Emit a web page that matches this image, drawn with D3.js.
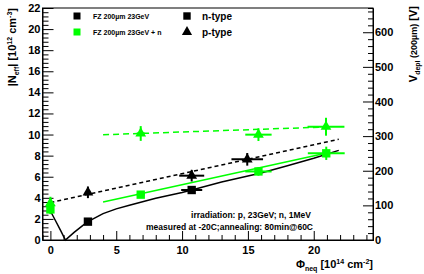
<!DOCTYPE html>
<html>
<head>
<meta charset="utf-8">
<script src="https://cdn.jsdelivr.net/npm/d3@7"></script>
<style>
  body { margin: 0; background: #fff; }
  svg { display: block; font-family: "Liberation Sans", Arial, sans-serif; font-weight: bold; }
</style>
</head>
<body>
<script>
// measured points: [fluence, |Neff|, errX, errY]
const blackSquares = [[2.85, 1.74, 0, 0], [10.73, 4.74, 0.8, 0.35]];
const blackTriangles = [[2.85, 4.52, 0, 0.55], [10.73, 6.1, 0.95, 0.55], [14.95, 7.65, 1.2, 0.6]];
const greenSquares = [[0, 2.9, 0, 0.45], [6.86, 4.3, 0.3, 0.3], [15.8, 6.5, 1.0, 0.4], [20.95, 8.22, 1.4, 0.63]];
const greenTriangles = [[0, 3.5, 0, 0.6], [6.86, 10.1, 0.3, 0.7], [15.8, 9.99, 1.0, 0.6], [20.93, 10.74, 1.4, 0.85]];

// fit curves
const fitBlackN = [[0, 2.75], [0.4, 1.8], [0.8, 0.85], [1.14, 0], [1.8, 0.72], [2.47, 1.38], [2.85, 1.74], [4, 2.5], [5, 2.95], [6, 3.3], [8, 3.95], [10, 4.5], [10.73, 4.74], [13, 5.5], [16, 6.35], [18, 7.05], [20, 7.75], [21.9, 8.5]];
const fitBlackP = [[0, 3.55], [21.9, 9.55]];
const fitGreenN = [[4, 3.6], [21, 8.25]];
const fitGreenP = [[4, 9.98], [21, 10.72]];

const xTicks = [0, 5, 10, 15, 20];
const yTicks = [0, 2, 4, 6, 8, 10, 12, 14, 16, 18, 20, 22];
const vTicks = [0, 100, 200, 300, 400, 500, 600];

const W = 424, H = 274;
const margin = {left: 42.5, right: 51, top: 8, bottom: 34};

const svg = d3.select("body").append("svg")
  .attr("width", W).attr("height", H);

const x = d3.scaleLinear().domain([-0.6, 24.5]).range([margin.left, W - margin.right]);
const y = d3.scaleLinear().domain([0, 22]).range([H - margin.bottom, margin.top]);
const v = d3.scaleLinear().domain([0, 670]).range([H - margin.bottom, margin.top]);

const green = "#00ff00";

// frame
svg.append("rect")
  .attr("x", x.range()[0]).attr("y", y.range()[1])
  .attr("width", x.range()[1] - x.range()[0])
  .attr("height", y.range()[0] - y.range()[1])
  .attr("fill", "none").attr("stroke", "#000").attr("stroke-width", 1);

// axes (ticks pointing inward like ROOT)
const xAxis = d3.axisBottom(x).tickValues(d3.range(0, 25, 1))
  .tickSize(-5).tickFormat(d => xTicks.includes(d) ? d : "").tickPadding(6);
const xg = svg.append("g").attr("transform", `translate(0,${y(0)})`).call(xAxis);
xg.selectAll(".tick line").filter(d => xTicks.includes(d)).attr("y2", -9);

const yAxis = d3.axisLeft(y).tickValues(d3.range(0, 22.01, 0.4).map(d => +d.toFixed(1)))
  .tickSize(-6).tickFormat(d => yTicks.includes(d) ? d : "").tickPadding(4);
const yg = svg.append("g").attr("transform", `translate(${x.range()[0]},0)`).call(yAxis);
yg.selectAll(".tick line").filter(d => yTicks.includes(d)).attr("x2", 11);

const vAxis = d3.axisRight(v).tickValues(d3.range(0, 661, 20))
  .tickSize(-5).tickFormat(d => vTicks.includes(d) ? d : "").tickPadding(2);
const vg = svg.append("g").attr("transform", `translate(${x.range()[1]},0)`).call(vAxis);
vg.selectAll(".tick line").filter(d => vTicks.includes(d)).attr("x2", -10);

[xg, yg, vg].forEach(g => {
  g.select(".domain").attr("stroke", "#000");
  g.selectAll("text").attr("font-size", 11).attr("font-weight", "bold")
    .attr("font-family", "Liberation Sans, Arial, sans-serif").attr("fill", "#000");
});
yg.selectAll("text").attr("dx", 2);
vg.selectAll("text").attr("dx", 0);

// fit lines
const line = d3.line().x(d => x(d[0])).y(d => y(d[1]));
svg.append("path").datum(fitBlackN).attr("d", line)
  .attr("fill", "none").attr("stroke", "#000").attr("stroke-width", 1.5);
svg.append("path").datum(fitBlackP).attr("d", line)
  .attr("fill", "none").attr("stroke", "#000").attr("stroke-width", 1.5).attr("stroke-dasharray", "4,3");
svg.append("path").datum(fitGreenN).attr("d", line)
  .attr("fill", "none").attr("stroke", green).attr("stroke-width", 1.5);
svg.append("path").datum(fitGreenP).attr("d", line)
  .attr("fill", "none").attr("stroke", green).attr("stroke-width", 1.5).attr("stroke-dasharray", "6,4");

// markers with error bars
function drawSet(data, color, shape) {
  const g = svg.append("g");
  data.forEach(d => {
    const cx = x(d[0]), cy = y(d[1]);
    if (d[2] > 0) g.append("line").attr("x1", x(d[0] - d[2])).attr("x2", x(d[0] + d[2]))
      .attr("y1", cy).attr("y2", cy).attr("stroke", color).attr("stroke-width", 2);
    if (d[3] > 0) g.append("line").attr("x1", cx).attr("x2", cx)
      .attr("y1", y(d[1] - d[3])).attr("y2", y(d[1] + d[3])).attr("stroke", color).attr("stroke-width", 2);
    const sym = d3.symbol().type(shape === "square" ? d3.symbolSquare : d3.symbolTriangle)
      .size(shape === "square" ? 70 : 50);
    g.append("path").attr("d", sym()).attr("transform", `translate(${cx},${cy})`).attr("fill", color);
  });
}
drawSet(blackSquares, "#000", "square");
drawSet(blackTriangles, "#000", "triangle");
drawSet(greenSquares, green, "square");
drawSet(greenTriangles, green, "triangle");

// legend
const legend = [
  {label: "FZ 200\u00b5m 23GeV", color: "#000", shape: "square", size: 7},
  {label: "FZ 200\u00b5m 23GeV + n", color: green, shape: "square", size: 7},
];
legend.forEach((l, i) => {
  const ly = 16 + i * 16;
  svg.append("rect").attr("x", 73.5).attr("y", ly - 3.5).attr("width", 7).attr("height", 7).attr("fill", l.color);
  svg.append("text").attr("x", 93).attr("y", ly + 2.5).attr("font-size", l.size).text(l.label);
});
const typeLegend = [{label: "n-type", shape: d3.symbolSquare, size: 55}, {label: "p-type", shape: d3.symbolTriangle, size: 45}];
typeLegend.forEach((l, i) => {
  const ly = 16 + i * 16;
  svg.append("path").attr("d", d3.symbol().type(l.shape).size(l.size)())
    .attr("transform", `translate(187,${ly})`).attr("fill", "#000");
  svg.append("text").attr("x", 202).attr("y", ly + 3.5).attr("font-size", 10).text(l.label);
});

// annotation
svg.append("text").attr("x", 311).attr("y", 218).attr("text-anchor", "end").attr("font-size", 8.5)
  .text("irradiation: p, 23GeV; n, 1MeV");
svg.append("text").attr("x", 313).attr("y", 229.5).attr("text-anchor", "end").attr("font-size", 8.5)
  .text("measured at -20C;annealing: 80min@60C");

// axis titles
const yt = svg.append("text").attr("transform", "translate(16,8) rotate(-90)")
  .attr("text-anchor", "end").attr("font-size", 11);
yt.append("tspan").text("|N");
yt.append("tspan").attr("font-size", 7).attr("dy", 3).text("eff");
yt.append("tspan").attr("dy", -3).text("| [10");
yt.append("tspan").attr("font-size", 7).attr("dy", -4).text("12");
yt.append("tspan").attr("dy", 4).text(" cm");
yt.append("tspan").attr("font-size", 7).attr("dy", -4).text("-3");
yt.append("tspan").attr("dy", 4).text("]");

const vt = svg.append("text").attr("transform", "translate(417,6) rotate(-90)")
  .attr("text-anchor", "end").attr("font-size", 11);
vt.append("tspan").text("V");
vt.append("tspan").attr("font-size", 7).attr("dy", 3).text("depl");
vt.append("tspan").attr("dy", -3).attr("font-size", 9).text(" (200\u00b5m)");
vt.append("tspan").text(" [V]");

const xt = svg.append("text").attr("x", 373).attr("y", 268)
  .attr("text-anchor", "end").attr("font-size", 11);
xt.append("tspan").text("\u03a6");
xt.append("tspan").attr("font-size", 7).attr("dy", 3).text("neq");
xt.append("tspan").attr("dy", -3).text(" [10");
xt.append("tspan").attr("font-size", 7).attr("dy", -4).text("14");
xt.append("tspan").attr("dy", 4).text(" cm");
xt.append("tspan").attr("font-size", 7).attr("dy", -4).text("-2");
xt.append("tspan").attr("dy", 4).text("]");
</script>
</body>
</html>
